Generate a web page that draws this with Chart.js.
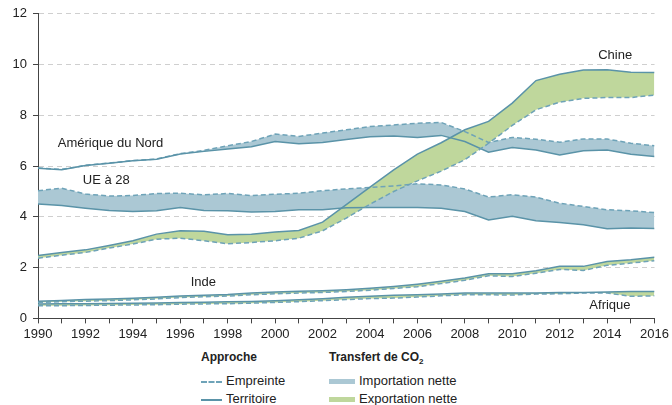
<!DOCTYPE html>
<html>
<head>
<meta charset="utf-8">
<script src="https://cdn.jsdelivr.net/npm/chart.js@4"></script>
<style>
  body { margin: 0; background: #fff; font-family: 'Liberation Sans', Arial, sans-serif; color: #222; }
  #wrap { position: relative; width: 672px; height: 405px; }
  #box { position: absolute; left: 0; top: 0; width: 672px; height: 345px; }
  .leg { position: absolute; font-size: 13px; line-height: 15px; white-space: nowrap; }
  .leg b { font-size: 12px; }
  .dash { display: inline-block; width: 21px; border-top: 2px dashed #6ea3b8; vertical-align: middle; margin-right: 4px; }
  .solid { display: inline-block; width: 21px; border-top: 2px solid #5a93a8; vertical-align: middle; margin-right: 4px; }
  .sw { display: inline-block; width: 26px; height: 5px; vertical-align: middle; margin-right: 4px; }
</style>
</head>
<body>
<div id="wrap">
  <div id="box"><canvas id="chart"></canvas></div>
  <div class="leg" style="left:201px; top:349px;"><b>Approche</b></div>
  <div class="leg" style="left:201px; top:373px;"><span class="dash"></span>Empreinte</div>
  <div class="leg" style="left:201px; top:391px;"><span class="solid"></span>Territoire</div>
  <div class="leg" style="left:329px; top:349px;"><b>Transfert de CO<sub style="font-size:8px">2</sub></b></div>
  <div class="leg" style="left:329px; top:373px;"><span class="sw" style="background:#abc8d4"></span>Importation nette</div>
  <div class="leg" style="left:329px; top:391px;"><span class="sw" style="background:#bfd79c"></span>Exportation nette</div>
</div>
<script>
const years = [1990, 1991, 1992, 1993, 1994, 1995, 1996, 1997, 1998, 1999, 2000, 2001, 2002,
  2003, 2004, 2005, 2006, 2007, 2008, 2009, 2010, 2011, 2012, 2013, 2014, 2015, 2016];

const chineTerritoire = [2.48, 2.6, 2.7, 2.87, 3.06, 3.32, 3.45, 3.43, 3.3, 3.32, 3.4, 3.46, 3.79,
  4.48, 5.17, 5.85, 6.47, 6.92, 7.43, 7.76, 8.48, 9.37, 9.62, 9.79, 9.8, 9.7, 9.69];
const chineEmpreinte = [2.37, 2.49, 2.6, 2.77, 2.93, 3.12, 3.16, 3.06, 2.94, 2.99, 3.06, 3.16, 3.45,
  3.95, 4.5, 5.0, 5.42, 5.8, 6.25, 6.9, 7.6, 8.22, 8.52, 8.67, 8.7, 8.7, 8.8];

const amnTerritoire = [5.92, 5.86, 6.02, 6.11, 6.21, 6.27, 6.48, 6.58, 6.67, 6.76, 6.97, 6.88, 6.93,
  7.05, 7.16, 7.19, 7.13, 7.21, 6.97, 6.55, 6.73, 6.63, 6.44, 6.6, 6.63, 6.47, 6.38];
const amnEmpreinte = [5.93, 5.87, 6.03, 6.12, 6.22, 6.28, 6.49, 6.62, 6.8, 6.97, 7.26, 7.17, 7.3,
  7.43, 7.56, 7.62, 7.69, 7.72, 7.36, 6.93, 7.13, 7.06, 6.94, 7.07, 7.07, 6.9, 6.8];

const ueTerritoire = [4.51, 4.45, 4.34, 4.25, 4.21, 4.24, 4.37, 4.25, 4.24, 4.19, 4.21, 4.28, 4.28,
  4.36, 4.37, 4.37, 4.37, 4.34, 4.21, 3.88, 4.02, 3.85, 3.78, 3.69, 3.53, 3.56, 3.54];
const ueEmpreinte = [5.03, 5.13, 4.9, 4.82, 4.84, 4.92, 4.93, 4.87, 4.92, 4.84, 4.89, 4.93, 5.03,
  5.1, 5.16, 5.22, 5.3, 5.26, 5.1, 4.78, 4.87, 4.78, 4.54, 4.41, 4.28, 4.24, 4.17];

const indeTerritoire = [0.68, 0.71, 0.74, 0.76, 0.79, 0.83, 0.88, 0.91, 0.94, 1.0, 1.04, 1.07, 1.09,
  1.13, 1.19, 1.26, 1.35, 1.46, 1.59, 1.76, 1.76, 1.88, 2.05, 2.05, 2.24, 2.31, 2.41];
const indeEmpreinte = [0.63, 0.66, 0.68, 0.7, 0.73, 0.77, 0.82, 0.85, 0.88, 0.93, 0.97, 1.0, 1.02,
  1.06, 1.11, 1.18, 1.25, 1.37, 1.5, 1.68, 1.65, 1.78, 1.93, 1.89, 2.09, 2.18, 2.27];

const afriqueTerritoire = [0.57, 0.58, 0.58, 0.59, 0.6, 0.61, 0.63, 0.64, 0.66, 0.67, 0.7, 0.73, 0.77,
  0.83, 0.87, 0.91, 0.93, 0.96, 1.0, 1.0, 1.0, 1.0, 1.02, 1.02, 1.04, 1.06, 1.06];
const afriqueEmpreinte = [0.5, 0.5, 0.51, 0.52, 0.53, 0.54, 0.56, 0.57, 0.58, 0.6, 0.63, 0.66, 0.7,
  0.74, 0.78, 0.8, 0.84, 0.89, 0.93, 0.93, 0.92, 0.96, 0.97, 1.0, 1.0, 0.87, 0.89];

// region labels: [text, year, value]
const regionLabels = [
  ['Chine', 2014.34, 10.35],
  ['Amérique du Nord', 1993.06, 6.9],
  ['UE à 28', 1992.88, 5.42],
  ['Inde', 1996.97, 1.42],
  ['Afrique', 2014.12, 0.5],
];

const lineColor = '#5a93a8';
const dashColor = '#6ea3b8';
const blueFill = '#abc8d4';
const greenFill = '#bfd79c';
const font = "'Liberation Sans', Arial, sans-serif";

const pts = (arr) => arr.map((v, i) => ({ x: years[i], y: v }));

const regions = [
  [chineTerritoire, chineEmpreinte],
  [amnTerritoire, amnEmpreinte],
  [ueTerritoire, ueEmpreinte],
  [indeTerritoire, indeEmpreinte],
  [afriqueTerritoire, afriqueEmpreinte],
];

const datasets = [];
regions.forEach(([terr, emp]) => {
  const idx = datasets.length;
  datasets.push({
    label: 'Territoire',
    data: pts(terr),
    borderColor: lineColor,
    borderWidth: 1.5,
    pointRadius: 0,
    tension: 0,
    fill: false,
  });
  datasets.push({
    label: 'Empreinte',
    data: pts(emp),
    borderColor: dashColor,
    borderWidth: 1.5,
    borderDash: [5, 3],
    pointRadius: 0,
    tension: 0,
    fill: { target: idx, above: blueFill, below: greenFill },
  });
});

const labelPlugin = {
  id: 'regionLabels',
  afterDatasetsDraw(chart) {
    const { ctx, scales } = chart;
    ctx.save();
    ctx.font = '13px ' + font;
    ctx.fillStyle = '#222';
    ctx.textAlign = 'center';
    ctx.textBaseline = 'middle';
    regionLabels.forEach(([t, x, y]) => {
      ctx.fillText(t, scales.x.getPixelForValue(x), scales.y.getPixelForValue(y));
    });
    ctx.restore();
  },
};

new Chart(document.getElementById('chart').getContext('2d'), {
  type: 'line',
  data: { datasets },
  plugins: [labelPlugin],
  options: {
    responsive: true,
    maintainAspectRatio: false,
    animation: false,
    layout: { padding: { top: 12, right: 2, left: 0, bottom: 0 } },
    plugins: {
      legend: { display: false },
      tooltip: { enabled: false },
      filler: { drawTime: 'beforeDatasetsDraw' },
    },
    scales: {
      x: {
        type: 'linear',
        min: 1990,
        max: 2016,
        ticks: {
          stepSize: 1,
          autoSkip: false,
          maxRotation: 0,
          padding: 3,
          color: '#222',
          font: { family: font, size: 13 },
          callback: (v) => (v % 2 === 0 ? String(v) : ''),
        },
        grid: { drawOnChartArea: false, tickLength: 5, tickColor: '#444' },
        border: { color: '#444', width: 1 },
      },
      y: {
        min: 0,
        max: 12,
        afterFit: (scale) => { scale.width = 38; },
        ticks: {
          stepSize: 2,
          padding: 6,
          color: '#222',
          font: { family: font, size: 13 },
        },
        grid: {
          color: (c) => (c.tick && c.tick.value === 0 ? 'rgba(0,0,0,0)' : '#cfcfcf'),
          tickColor: '#444',
          tickLength: 5,
        },
        border: { color: '#444', width: 1, dash: [5, 4] },
      },
    },
  },
});
</script>
</body>
</html>
